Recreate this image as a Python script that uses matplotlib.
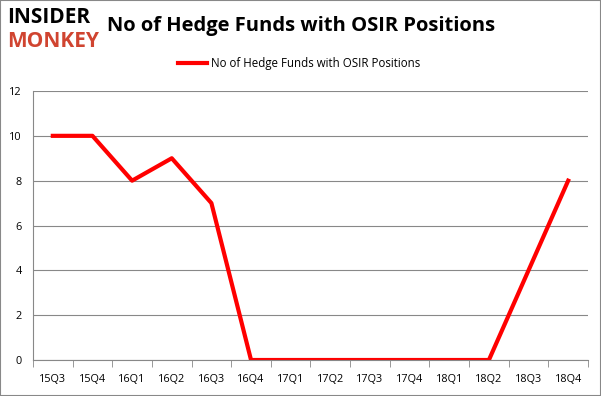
import numpy as np
import matplotlib.pyplot as plt
from matplotlib.patches import Rectangle

quarters = ['15Q3', '15Q4', '16Q1', '16Q2', '16Q3', '16Q4', '17Q1',
            '17Q2', '17Q3', '17Q4', '18Q1', '18Q2', '18Q3', '18Q4']
funds = [10, 10, 8, 9, 7, 0, 0, 0, 0, 0, 0, 0, 4, 8]

plt.rcParams['font.family'] = ['Open Sans', 'DejaVu Sans']

fig = plt.figure(figsize=(6.01, 3.96), dpi=100, facecolor='white')
ax = fig.add_axes([33/601, 36/396, 555/601, 269/396])

X = np.arange(len(quarters))
ax.plot(X, funds, color='#ff0000', lw=3, label='No of Hedge Funds with OSIR Positions')

ax.set_xlim(-0.5, len(quarters) - 0.5)
ax.set_ylim(0, 12)
ax.set_yticks(range(0, 13, 2))
ax.set_xticks(X)
ax.set_xticklabels(quarters, fontsize=7.8)
ax.set_xticks(np.arange(-0.5, len(quarters), 1), minor=True)
ax.tick_params(axis='x', which='major', length=0, pad=10)
ax.tick_params(axis='x', which='minor', length=5, color='#888888')
ax.tick_params(axis='y', length=0, labelsize=7.8, pad=8)
ax.grid(axis='y', color='#888888', lw=0.8)
ax.set_axisbelow(True)
for s in ['top', 'right']:
    ax.spines[s].set_visible(False)
ax.spines['left'].set_color('#888888')
ax.spines['bottom'].set_color('#888888')

ax.legend(loc='lower center', bbox_to_anchor=(0.48, 1.04), frameon=False,
          fontsize=8.3, handlelength=2.5, handletextpad=0.4)

fig.text(0.178, 0.935, 'No of Hedge Funds with OSIR Positions', fontsize=14.5,
         fontweight='bold', va='center', ha='left')
fig.text(0.012, 0.955, 'INSIDER', fontsize=15, fontweight='bold', color='black',
         va='center', ha='left')
fig.text(0.012, 0.895, 'MONKEY', fontsize=15, fontweight='bold', color='#d04430',
         va='center', ha='left')

fig.patches.append(Rectangle((0, 0), 1, 1, transform=fig.transFigure,
                             fill=False, edgecolor='#888888', lw=1.5))

fig.savefig('out.png', dpi=100, facecolor='white')
